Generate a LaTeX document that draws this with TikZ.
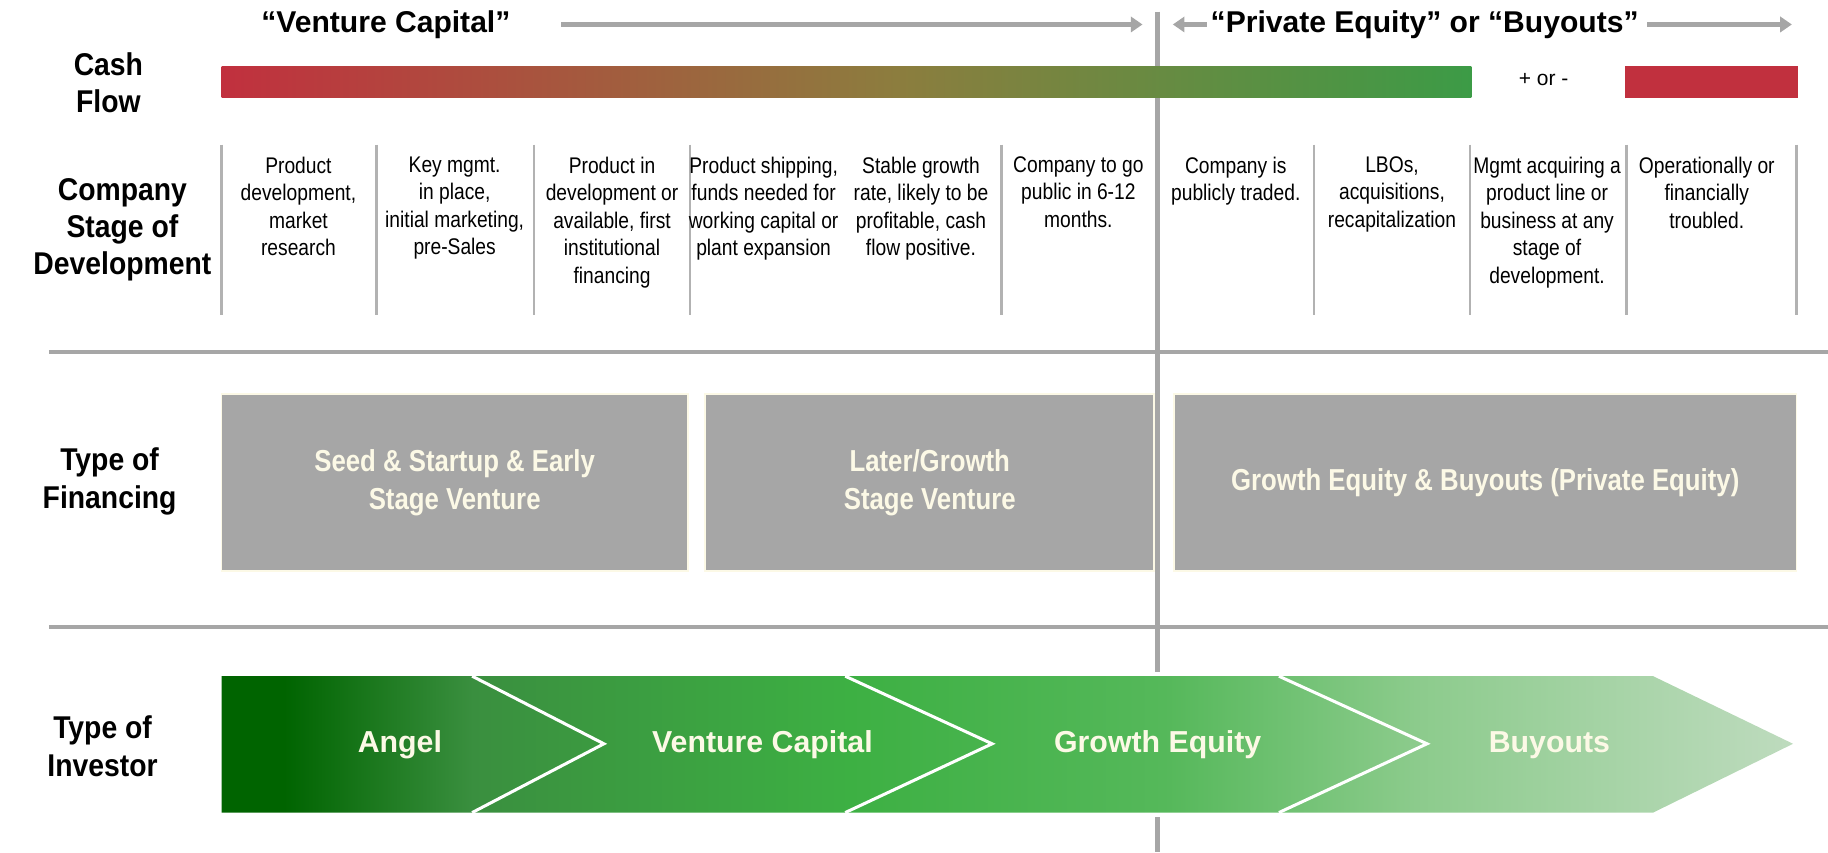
\documentclass[tikz,border=0pt]{standalone}
\usepackage{fontspec}
\setmainfont{Liberation Sans}
\newfontfamily\narrowfont[FakeStretch=0.85]{Liberation Sans}
\newfontfamily\labelfont[FakeStretch=0.9]{Liberation Sans}
\usetikzlibrary{arrows.meta,positioning}

\definecolor{linegray}{RGB}{166,166,166}
\definecolor{sepgray}{RGB}{178,178,178}
\definecolor{boxgray}{RGB}{166,166,166}
\definecolor{cream}{RGB}{252,249,230}
\definecolor{cashred}{RGB}{193,48,62}
\definecolor{cashmid}{RGB}{140,125,62}
\definecolor{cashgreen}{RGB}{60,155,70}
\definecolor{inv0}{RGB}{0,100,0}
\definecolor{inv1}{RGB}{58,143,63}
\definecolor{inv2}{RGB}{61,176,67}
\definecolor{inv3}{RGB}{85,184,90}
\definecolor{inv4}{RGB}{140,203,140}
\definecolor{inv5}{RGB}{190,219,190}

\pgfdeclarehorizontalshading{cashshade}{100bp}{color(0bp)=(cashred); color(25bp)=(cashred); color(52bp)=(cashmid); color(75bp)=(cashgreen); color(100bp)=(cashgreen)}
\pgfdeclarehorizontalshading{invshade}{100bp}{color(0bp)=(inv0); color(25bp)=(inv0); color(27bp)=(inv0); color(33bp)=(inv1); color(45bp)=(inv2); color(55bp)=(inv3); color(63bp)=(inv4); color(75bp)=(inv5); color(100bp)=(inv5)}

\begin{document}
\begin{tikzpicture}[x=0.5pt, y=-0.5pt,
  rowlabel/.style={align=center, inner sep=0, font=\labelfont\bfseries\fontsize{13.5}{16}\selectfont},
  hdrlabel/.style={inner sep=0, font=\bfseries\fontsize{12.9}{15}\selectfont},
  hdrarrow/.style={draw=linegray, line width=1.8pt, -{Triangle[length=5pt,width=6.5pt]}},
  stagetext/.style={align=center, anchor=north, inner sep=0, font=\narrowfont\fontsize{9.7}{11.8}\selectfont},
  finbox/.style={fill=boxgray, draw=cream, line width=0.8pt, text=cream, align=center, inner sep=0, font=\narrowfont\bfseries\fontsize{13}{16.5}\selectfont},
  invlabel/.style={text=cream, inner sep=0, font=\bfseries\fontsize{13}{15}\selectfont},
  sepline/.style={draw=sepgray, line width=1.1pt},
  ruleline/.style={draw=linegray, line width=1.6pt},
  divline/.style={draw=linegray, line width=2pt}]

\useasboundingbox (0,0) rectangle (1568,731);

% headers
\node[hdrlabel] (vc) at (331,21) {“Venture Capital”};
\node[hdrlabel] (pe) at (1222,21) {“Private Equity” or “Buyouts”};
\coordinate (vc-tip) at (980,21);
\coordinate (pe-ltip) at (1006,21);
\coordinate (pe-rtip) at (1537,21);
\draw[hdrarrow, shorten <=21.5pt] (vc) -- (vc-tip);
\draw[hdrarrow, shorten <=1.5pt] (pe) -- (pe-ltip);
\draw[hdrarrow, shorten <=3.5pt] (pe) -- (pe-rtip);

\draw[divline] (993,10) -- (993,576);
\draw[divline] (993,701) -- (993,731);

% cash flow
\node[rowlabel] (cash-label) at (93,71) {Cash\\Flow};
\shade[shading=cashshade] (190,57) rectangle (1262,84);
\fill[cashred] (1394,57) rectangle (1542,84);
\node[inner sep=0, font=\fontsize{9}{11}\selectfont] (cash-sign) at (1324,68) {+ or -};

% company stage
\node[rowlabel] (stage-label) at (105,197) {Company\\Stage of\\Development};
\draw[sepline] (190,124) -- (190,270);
\draw[sepline] (323,124) -- (323,270);
\draw[sepline] (458,124) -- (458,270);
\draw[sepline] (592,124) -- (592,270);
\draw[sepline] (859,124) -- (859,270);
\draw[sepline] (1127,124) -- (1127,270);
\draw[sepline] (1261,124) -- (1261,270);
\draw[sepline] (1395,124) -- (1395,270);
\draw[sepline] (1541,124) -- (1541,270);

\node[stagetext] (stg-prod) at (256,134) {Product\\development,\\market\\research};
\node[stagetext] (stg-mgmt) at (390,134) {Key mgmt.\\in place,\\initial marketing,\\pre-Sales};
\node[stagetext] (stg-avail) at (525,134) {Product in\\development or\\available, first\\institutional\\financing};
\node[stagetext] (stg-ship) at (655,134) {Product shipping,\\funds needed for\\working capital or\\plant expansion};
\node[stagetext] (stg-stable) at (790,134) {Stable growth\\rate, likely to be\\profitable, cash\\flow positive.};
\node[stagetext] (stg-ipo) at (925,134) {Company to go\\public in 6-12\\months.};
\node[stagetext] (stg-public) at (1060,134) {Company is\\publicly traded.};
\node[stagetext] (stg-lbo) at (1194,134) {LBOs,\\acquisitions,\\recapitalization};
\node[stagetext] (stg-mbo) at (1327,134) {Mgmt acquiring a\\product line or\\business at any\\stage of\\development.};
\node[stagetext] (stg-trouble) at (1464,134) {Operationally or\\financially\\troubled.};

\draw[ruleline] (42,302) -- (1568,302);

% financing
\node[rowlabel] (fin-label) at (94,413) {Type of\\Financing};
\node[finbox, minimum width=200pt, minimum height=76pt] (fin-seed) at (390,414) {Seed \& Startup \& Early\\Stage Venture};
\node[finbox, minimum width=192.5pt, minimum height=76pt] (fin-later) at (797.5,414) {Later/Growth\\Stage Venture};
\node[finbox, minimum width=267pt, minimum height=76pt] (fin-pe) at (1274,414) {Growth Equity \& Buyouts (Private Equity)};

\draw[ruleline] (42,538) -- (1568,538);

% investors
\node[rowlabel] (inv-label) at (88,640) {Type of\\Investor};
\shade[shading=invshade] (190,580) -- (1418,580) -- (1538,638) -- (1418,697) -- (190,697) -- cycle;
\draw[white, line width=1.3pt] (405,580) -- (518,638) -- (405,697);
\draw[white, line width=1.3pt] (725,580) -- (851,638) -- (725,697);
\draw[white, line width=1.3pt] (1097,580) -- (1224,638) -- (1097,697);
\node[invlabel] (inv-angel) at (343,639) {Angel};
\node[invlabel] (inv-vc) at (654,639) {Venture Capital};
\node[invlabel] (inv-growth) at (993,639) {Growth Equity};
\node[invlabel] (inv-buyout) at (1329,639) {Buyouts};

\end{tikzpicture}
\end{document}
